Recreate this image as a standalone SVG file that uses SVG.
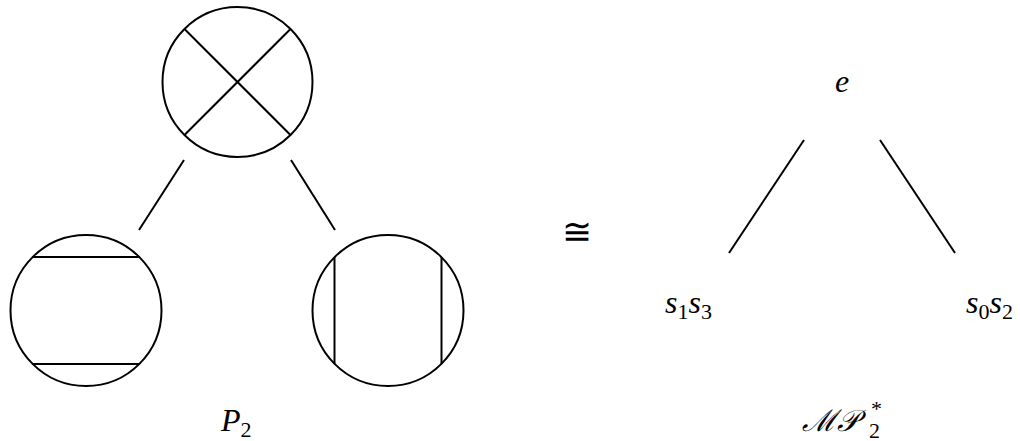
<svg xmlns="http://www.w3.org/2000/svg" width="1020" height="441" viewBox="0 0 1020 441">
<style>
.s{fill:none;stroke:#000;stroke-width:2}
.t{font-family:"Liberation Serif","DejaVu Serif",serif;font-style:italic;font-size:32px;fill:#000}
.u{font-family:"Liberation Serif","DejaVu Serif",serif;font-style:normal;font-size:22px}
.m{font-family:"DejaVu Serif","Liberation Serif",serif;font-size:36px;fill:#000}
</style>
<rect width="1020" height="441" fill="#fff"/>
<g id="top-circle">
<circle class="s" cx="237.5" cy="82" r="75"/>
<line class="s" x1="184.5" y1="29" x2="290.5" y2="135"/>
<line class="s" x1="290.5" y1="29" x2="184.5" y2="135"/>
</g>
<g id="left-circle">
<circle class="s" cx="86" cy="310.5" r="75.5"/>
<line class="s" x1="32" y1="257" x2="140" y2="257"/>
<line class="s" x1="32" y1="364" x2="140" y2="364"/>
</g>
<g id="right-circle">
<circle class="s" cx="388" cy="310.5" r="75.5"/>
<line class="s" x1="334.5" y1="257" x2="334.5" y2="364"/>
<line class="s" x1="441.5" y1="257" x2="441.5" y2="364"/>
</g>
<g id="node-e"><text class="t" x="842" y="92" text-anchor="middle">e</text></g>
<g id="node-s1s3"><text class="t" x="665" y="313">s<tspan class="u" dy="6">1</tspan><tspan dy="-6">s</tspan><tspan class="u" dy="6">3</tspan></text></g>
<g id="node-s0s2"><text class="t" x="966" y="313">s<tspan class="u" dy="6">0</tspan><tspan dy="-6">s</tspan><tspan class="u" dy="6">2</tspan></text></g>
<g id="connectors">
<line class="s" x1="184" y1="160" x2="139" y2="230"/>
<line class="s" x1="291" y1="160" x2="335" y2="230"/>
<line class="s" x1="804" y1="140" x2="729" y2="253"/>
<line class="s" x1="880" y1="140" x2="955" y2="253"/>
</g>
<g id="iso"><text class="m" x="577" y="244" text-anchor="middle">≅</text></g>
<g id="label-P2"><text class="t" x="221" y="431">P<tspan class="u" dy="6">2</tspan></text></g>
<g id="label-MP2"><text class="t" x="802" y="431" style="font-size:30px">ℳ𝒫<tspan class="u" x="871" dy="-15">*</tspan><tspan class="u" x="869" dy="22">2</tspan></text></g>
</svg>
